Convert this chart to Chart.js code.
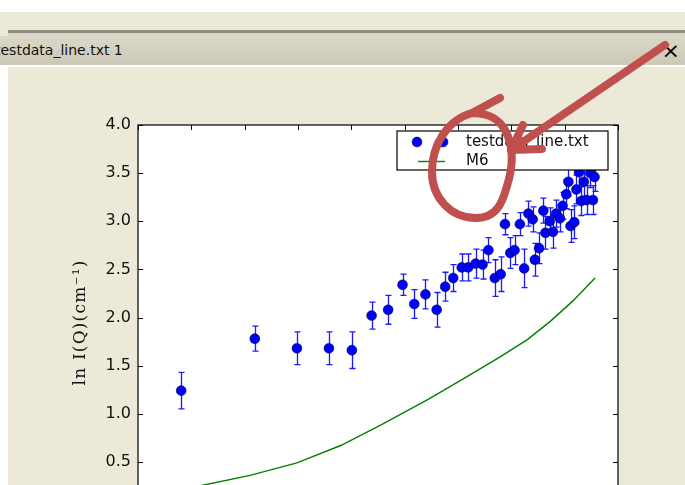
<!DOCTYPE html>
<html>
<head>
<meta charset="utf-8">
<script src="https://cdn.jsdelivr.net/npm/chart.js@4.4.0/dist/chart.umd.min.js"></script>
<style>
  html, body { margin: 0; padding: 0; }
  body { width: 685px; height: 485px; overflow: hidden; background: #ece9d8; position: relative; font-family: 'DejaVu Sans', sans-serif; }
  .abs { position: absolute; }
  #topwhite { left: 0; top: 0; width: 685px; height: 12px; background: #fff; }
  #rule { left: 8px; top: 30px; width: 677px; height: 3px; background: #8e8c82; }
  #rule2 { left: 8px; top: 33px; width: 677px; height: 3px; background: #d8d4c6; }
  #titlebar { left: 0; top: 36px; width: 685px; height: 29px; background: linear-gradient(#dcd8c8, #ccc8b8); overflow: hidden; }
  #titlebar span { position: absolute; left: -5px; top: 6px; font-size: 14px; color: #111; white-space: nowrap; }
  #close { right: 5px; top: 38px; font-size: 22px; color: #000; }
  #tabline { left: 0; top: 65px; width: 685px; height: 2px; background: #fff; }
  #leftwhite { left: 0; top: 67px; width: 8px; height: 418px; background: #fff; }
  #wrap { left: 0; top: 0; width: 685px; height: 560px; }
  #marks { left: 0; top: 0; }
</style>
</head>
<body>
<div class="abs" id="topwhite"></div>
<div class="abs" id="rule"></div>
<div class="abs" id="rule2"></div>
<div class="abs" id="titlebar"><span>testdata_line.txt 1</span></div>
<div class="abs" id="close">×</div>
<div class="abs" id="tabline"></div>
<div class="abs" id="leftwhite"></div>
<div class="abs" id="wrap"><canvas id="c"></canvas></div>
<svg class="abs" id="marks" width="685" height="485">
  <g fill="none" stroke="#c0504d" stroke-width="8" stroke-linecap="round" stroke-linejoin="round">
    <path d="M665,45 L511,150 M523,125 L511,150 L542,149"/>
    <path d="M500,98 L472,113 C447,120 432,145 432,172 C432,197 450,218 476,218 C498,218 503,200 507,186 C512,170 515,148 505,130 C498,118 488,113 472,113"/>
  </g>
</svg>
<script>
// data points (Q, ln I, error)
const qData = [0.0081, 0.0219, 0.0298, 0.0358, 0.0401, 0.0438, 0.0469, 0.0496, 0.0518, 0.0539,
  0.0560, 0.0576, 0.0591, 0.0607, 0.0619, 0.0633, 0.0646, 0.0657, 0.0669, 0.0680,
  0.0688, 0.0698, 0.0706, 0.0716, 0.0724, 0.0732, 0.0740, 0.0744, 0.0752, 0.0760,
  0.0764, 0.0772, 0.0778, 0.0784, 0.0791, 0.0796, 0.0803, 0.0807, 0.0811, 0.0818,
  0.0822, 0.0827, 0.0831, 0.0836, 0.0841, 0.0848, 0.0853, 0.0856];
const lnI = [1.24, 1.78, 1.68, 1.68, 1.66, 2.02, 2.08, 2.34, 2.14, 2.24,
  2.08, 2.32, 2.41, 2.52, 2.52, 2.56, 2.55, 2.70, 2.41, 2.45,
  2.97, 2.67, 2.70, 2.97, 2.51, 3.08, 3.02, 2.60, 2.72, 3.11,
  2.88, 3.00, 2.89, 3.08, 3.03, 3.16, 3.28, 3.41, 2.95, 2.99,
  3.33, 3.51, 3.21, 3.41, 3.22, 3.50, 3.22, 3.46];
const lnIErr = [0.19, 0.13, 0.17, 0.17, 0.19, 0.14, 0.15, 0.11, 0.15, 0.15,
  0.18, 0.15, 0.14, 0.14, 0.14, 0.15, 0.15, 0.13, 0.19, 0.18,
  0.11, 0.16, 0.15, 0.12, 0.20, 0.13, 0.13, 0.17, 0.16, 0.13,
  0.17, 0.14, 0.17, 0.14, 0.14, 0.14, 0.15, 0.15, 0.17, 0.17,
  0.15, 0.15, 0.15, 0.15, 0.15, 0.15, 0.15, 0.15];
// model curve M6
const modelQ = [0.0081, 0.0210, 0.0298, 0.0380, 0.0454, 0.0544, 0.0609, 0.0679, 0.0730, 0.0773, 0.0815, 0.0857];
const modelLnI = [0.21, 0.36, 0.49, 0.67, 0.88, 1.15, 1.36, 1.59, 1.77, 1.96, 2.17, 2.41];
const seriesNames = ['testdata_line.txt', 'M6'];
const yTitle = 'ln I(Q)(cm⁻¹)';

Chart.defaults.font.family = "'DejaVu Sans', sans-serif";
Chart.defaults.color = '#111';

const mplFrame = {
  id: 'mplFrame',
  beforeDraw(chart) {
    const {ctx, chartArea: a} = chart;
    ctx.save();
    ctx.fillStyle = '#fff';
    ctx.fillRect(a.left, a.top, a.right - a.left, a.bottom - a.top);
    ctx.restore();
  },
  beforeDatasetsDraw(chart) {
    // error bars
    const {ctx, scales: {x, y}} = chart;
    ctx.save();
    ctx.strokeStyle = '#1a1aff';
    ctx.lineWidth = 1.3;
    for (let i = 0; i < qData.length; i++) {
      const px = Math.round(x.getPixelForValue(qData[i])) + 0.5;
      const top = y.getPixelForValue(lnI[i] + lnIErr[i]);
      const bot = y.getPixelForValue(lnI[i] - lnIErr[i]);
      ctx.beginPath();
      ctx.moveTo(px, top); ctx.lineTo(px, bot);
      ctx.moveTo(px - 3, top); ctx.lineTo(px + 3, top);
      ctx.moveTo(px - 3, bot); ctx.lineTo(px + 3, bot);
      ctx.stroke();
    }
    ctx.restore();
  },
  afterDatasetsDraw(chart) {
    const {ctx, chartArea: a, scales: {x, y}} = chart;
    ctx.save();
    ctx.strokeStyle = '#000';
    ctx.lineWidth = 1.2;
    ctx.strokeRect(a.left, a.top, a.right - a.left, a.bottom - a.top);
    ctx.lineWidth = 1;
    ctx.beginPath();
    y.ticks.forEach(t => {
      const py = Math.round(y.getPixelForValue(t.value)) + 0.5;
      ctx.moveTo(a.left, py); ctx.lineTo(a.left + 5, py);
      ctx.moveTo(a.right, py); ctx.lineTo(a.right - 5, py);
    });
    x.ticks.forEach(t => {
      const px = Math.round(x.getPixelForValue(t.value)) + 0.5;
      ctx.moveTo(px, a.top); ctx.lineTo(px, a.top + 5);
      ctx.moveTo(px, a.bottom); ctx.lineTo(px, a.bottom - 5);
    });
    ctx.stroke();

    // legend box inside the axes, upper right
    const ds = chart.data.datasets;
    const bx = a.right - 221, by = a.top + 6, bw = 211, bh = 39;
    ctx.fillStyle = '#fff';
    ctx.fillRect(bx, by, bw, bh);
    ctx.lineWidth = 1.2;
    ctx.strokeRect(bx, by, bw, bh);
    [bx + 20, bx + 46].forEach(mx => {
      ctx.beginPath();
      ctx.arc(mx, by + 11, ds[0].pointRadius, 0, Math.PI * 2);
      ctx.fillStyle = ds[0].backgroundColor;
      ctx.fill();
      ctx.lineWidth = ds[0].borderWidth;
      ctx.strokeStyle = ds[0].borderColor;
      ctx.stroke();
    });
    ctx.beginPath();
    ctx.strokeStyle = ds[1].borderColor;
    ctx.lineWidth = 1.4;
    ctx.moveTo(bx + 21, by + 30.5); ctx.lineTo(bx + 48, by + 30.5);
    ctx.stroke();
    ctx.fillStyle = '#111';
    ctx.font = "15px 'DejaVu Sans'";
    ctx.textBaseline = 'middle';
    ctx.fillText(ds[0].label, bx + 69, by + 11);
    ctx.fillText(ds[1].label, bx + 69, by + 30);

    // y axis label
    ctx.translate(81, (a.top + a.bottom) / 2 + 5);
    ctx.rotate(-Math.PI / 2);
    ctx.font = "17px 'DejaVu Serif'";
    ctx.letterSpacing = '1.2px';
    ctx.textAlign = 'center';
    ctx.fillText(yTitle, 0, 0);
    ctx.restore();
  }
};

new Chart(document.getElementById('c'), {
  data: {
    datasets: [
      {
        type: 'scatter',
        label: seriesNames[0],
        data: qData.map((q, i) => ({x: q, y: lnI[i]})),
        backgroundColor: '#0000ff',
        borderColor: 'rgba(0,0,50,0.6)',
        borderWidth: 1,
        pointRadius: 4.9
      },
      {
        type: 'line',
        label: seriesNames[1],
        data: modelQ.map((q, i) => ({x: q, y: modelLnI[i]})),
        borderColor: '#008000',
        borderWidth: 1.4,
        pointRadius: 0,
        tension: 0,
        fill: false
      }
    ]
  },
  options: {
    responsive: true,
    maintainAspectRatio: false,
    animation: false,
    events: [],
    layout: {padding: {top: 125, right: 67, left: 0, bottom: 0}},
    plugins: {legend: {display: false}, tooltip: {enabled: false}},
    scales: {
      x: {
        type: 'linear',
        min: 0, max: 0.09,
        grid: {display: false},
        border: {display: false},
        ticks: {stepSize: 0.01, font: {size: 16}},
        afterFit: s => { s.height = 50; }
      },
      y: {
        type: 'linear',
        min: 0, max: 4,
        grid: {display: false, drawTicks: false},
        border: {display: false},
        ticks: {stepSize: 0.5, padding: 7, font: {size: 16}, callback: v => v.toFixed(1)},
        afterFit: s => { s.width = 138; }
      }
    }
  },
  plugins: [mplFrame]
});
</script>
</body>
</html>
